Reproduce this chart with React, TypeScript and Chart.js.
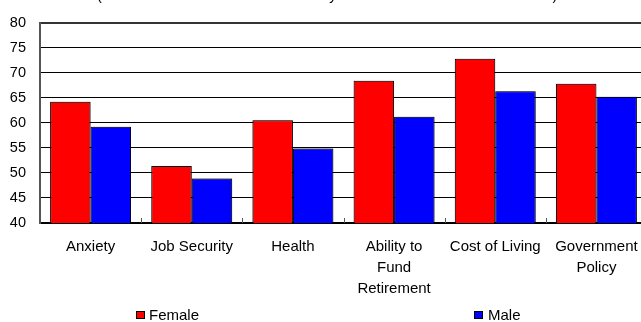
import React, { useEffect, useRef } from "react";
import { Chart, registerables } from "chart.js";

Chart.register(...registerables);

// Worry topics along the x axis (multi-line labels as arrays)
const categories: string[][] = [
  ["Anxiety"],
  ["Job Security"],
  ["Health"],
  ["Ability to", "Fund", "Retirement"],
  ["Cost of Living"],
  ["Government", "Policy"],
];

// Mean scores per topic
const femaleScores = [64.2, 51.4, 60.5, 68.4, 72.8, 67.8];
const maleScores = [59.2, 48.9, 54.9, 61.2, 66.3, 65.2];

// Value axis ticks
const yTicks = [40, 45, 50, 55, 60, 65, 70, 75, 80];

const seriesNames = ["Female", "Male"];
const seriesColors = ["#FF0000", "#0000FF"];

const subtitle = "(Mean scores out of 100 for each key issue shown for women and men)";

const FONT = "'Liberation Sans', Arial, Helvetica, sans-serif";

// Subtitle sitting above the plot, mostly outside the top edge
const subtitlePlugin = {
  id: "subtitleStrip",
  afterDraw(chart: any) {
    const { ctx, chartArea } = chart;
    ctx.save();
    ctx.font = `14.5px ${FONT}`;
    ctx.fillStyle = "#000";
    ctx.textAlign = "center";
    ctx.textBaseline = "alphabetic";
    const cx = chartArea.left + (chartArea.right - chartArea.left) * 0.473;
    ctx.fillText(subtitle, cx, -0.5);
    ctx.restore();
  },
};

// Small inward tick marks at the category boundaries
const boundaryTicksPlugin = {
  id: "boundaryTicks",
  afterDatasetsDraw(chart: any) {
    const { ctx, chartArea } = chart;
    const x = chart.scales.x;
    const half = (x.getPixelForValue(1) - x.getPixelForValue(0)) / 2;
    ctx.save();
    ctx.strokeStyle = "#555";
    ctx.lineWidth = 1;
    for (let i = 0; i < categories.length; i++) {
      const px = Math.round(x.getPixelForValue(i) + half) + 0.5;
      ctx.beginPath();
      ctx.moveTo(px, chartArea.bottom - 5);
      ctx.lineTo(px, chartArea.bottom);
      ctx.stroke();
    }
    ctx.restore();
  },
};

// Soft edge shading around the bars
const barShadePlugin = {
  id: "barShade",
  beforeDatasetsDraw(chart: any) {
    const { ctx } = chart;
    ctx.save();
    ctx.shadowColor = "rgba(0,0,0,0.45)";
    ctx.shadowBlur = 2;
    ctx.shadowOffsetX = 0;
    ctx.shadowOffsetY = 0;
  },
  afterDatasetsDraw(chart: any) {
    chart.ctx.restore();
  },
};

// Legend spread across the bottom
const bottomLegendPlugin = {
  id: "bottomLegend",
  afterDraw(chart: any) {
    const { ctx } = chart;
    const items = [
      { sx: 136, tx: 149 },
      { sx: 474, tx: 488 },
    ];
    ctx.save();
    ctx.font = `15px ${FONT}`;
    ctx.textBaseline = "middle";
    ctx.textAlign = "left";
    items.forEach((it, i) => {
      ctx.fillStyle = seriesColors[i];
      ctx.fillRect(it.sx, 311, 9, 8);
      ctx.strokeStyle = "#000";
      ctx.lineWidth = 1;
      ctx.strokeRect(it.sx + 0.5, 311.5, 8, 7);
      ctx.fillStyle = "#000";
      ctx.fillText(seriesNames[i], it.tx, 316);
    });
    ctx.restore();
  },
};

export default function App() {
  const canvasRef = useRef<HTMLCanvasElement | null>(null);

  useEffect(() => {
    const canvas = canvasRef.current;
    if (!canvas) return;
    const chart = new Chart(canvas, {
      type: "bar",
      data: {
        labels: categories,
        datasets: [
          {
            label: seriesNames[0],
            data: femaleScores,
            backgroundColor: seriesColors[0],
            borderColor: "#000",
            borderWidth: 1,
          },
          {
            label: seriesNames[1],
            data: maleScores,
            backgroundColor: seriesColors[1],
            borderColor: "#000",
            borderWidth: 1,
          },
        ],
      },
      options: {
        responsive: false,
        animation: false,
        devicePixelRatio: 1,
        layout: { padding: { top: 18, left: 0, right: 13, bottom: 0 } },
        datasets: {
          bar: { categoryPercentage: 0.8, barPercentage: 1.0 },
        },
        plugins: {
          legend: { display: false },
          title: { display: false },
          tooltip: { enabled: false },
        },
        scales: {
          x: {
            afterFit: (s: any) => {
              s.height = 99;
            },
            grid: { display: true, drawOnChartArea: false, drawTicks: false },
            border: { display: true, color: "#000", width: 2 },
            ticks: {
              color: "#000",
              font: { family: FONT, size: 15, lineHeight: 1.37 },
              padding: 14,
              maxRotation: 0,
              minRotation: 0,
              autoSkip: false,
            },
          },
          y: {
            min: 40,
            max: 80,
            afterFit: (s: any) => {
              s.width = 40;
            },
            afterBuildTicks: (s: any) => {
              s.ticks = yTicks.map((v) => ({ value: v }));
            },
            grid: {
              drawTicks: false,
              color: (c: any) => (c.tick && c.tick.value === 80 ? "#333" : "#000"),
              lineWidth: (c: any) => (c.tick && c.tick.value === 80 ? 2 : 1),
            },
            border: { display: true, color: "#555", width: 2 },
            ticks: {
              color: "#000",
              font: { family: FONT, size: 14.5 },
              padding: 14,
            },
          },
        },
      },
      plugins: [barShadePlugin, boundaryTicksPlugin, subtitlePlugin, bottomLegendPlugin],
    });
    return () => chart.destroy();
  }, []);

  return (
    <div
      style={{
        position: "absolute",
        left: 0,
        top: 0,
        width: 641,
        height: 322,
        overflow: "hidden",
        background: "#fff",
      }}
    >
      <canvas ref={canvasRef} width={660} height={322} style={{ display: "block" }} />
    </div>
  );
}
